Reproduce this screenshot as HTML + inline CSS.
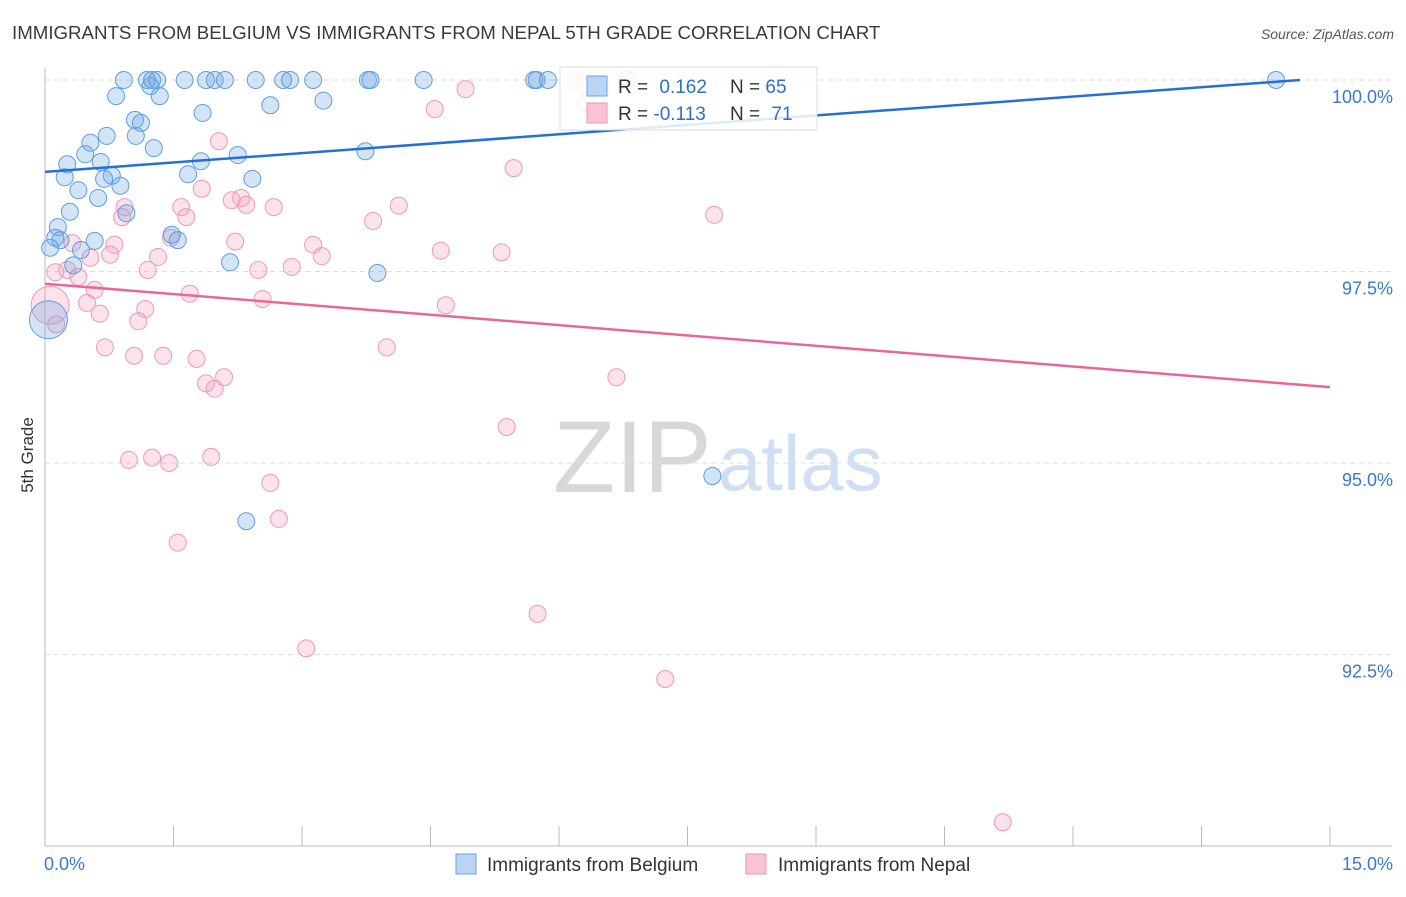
<!DOCTYPE html>
<html><head><meta charset="utf-8"><style>
body{margin:0;background:#fff;font-family:"Liberation Sans",sans-serif}
svg text{font-family:"Liberation Sans",sans-serif}
</style></head><body>
<svg id="chart" width="1406" height="892">
<text x="12" y="39" font-size="18.7" fill="#3a3a3a">IMMIGRANTS FROM BELGIUM VS IMMIGRANTS FROM NEPAL 5TH GRADE CORRELATION CHART</text>
<text x="1394" y="39" font-size="14" fill="#555" font-style="italic" text-anchor="end">Source: ZipAtlas.com</text>
<text transform="translate(33,455) rotate(-90)" font-size="17" fill="#333" text-anchor="middle">5th Grade</text>
<g><text x="553" y="492" font-size="102" fill="#d8d8d8" font-family="Liberation Serif">ZIP</text><text x="718" y="490" font-size="78" fill="#cfe0f3">atlas</text></g>
<g id="grid"></g><g id="axes"></g><g id="marks"></g>
<g>
<rect x="560" y="67" width="257" height="63" fill="#fff" fill-opacity="0.85" stroke="#ddd"/>
<rect x="587" y="76" width="20" height="20" fill="#b9d4f5" stroke="#6aa3e6"/>
<rect x="587" y="103" width="20" height="20" fill="#f8c3d4" stroke="#ec95b2"/>
<text x="618" y="93" font-size="19" fill="#333">R = <tspan fill="#2c6fd1" dx="6">0.162</tspan></text>
<text x="730" y="93" font-size="19" fill="#333">N = <tspan fill="#2c6fd1">65</tspan></text>
<text x="618" y="120" font-size="19" fill="#333">R = <tspan fill="#2c6fd1">-0.113</tspan></text>
<text x="730" y="120" font-size="19" fill="#333">N = <tspan fill="#2c6fd1" dx="6">71</tspan></text>
</g>
<g>
<rect x="456" y="854" width="20" height="20" fill="#b9d4f5" stroke="#6aa3e6"/>
<text x="487" y="871" font-size="19" fill="#333">Immigrants from Belgium</text>
<rect x="746" y="854" width="20" height="20" fill="#f8c3d4" stroke="#ec95b2"/>
<text x="778" y="871" font-size="19" fill="#333">Immigrants from Nepal</text>
</g>
</svg>
<script>
const yTicks=[100,97.5,95,92.5];
const yTickLabels=["100.0%","97.5%","95.0%","92.5%"];
const xTickLabels=["0.0%","15.0%"];
const belgiumX=[0.92,1.19,1.25,1.31,1.63,1.88,1.98,2.10,2.46,2.78,2.86,3.13,3.77,3.80,4.42,5.71,5.74,5.87,14.37,1.23,0.83,1.34,2.63,3.25,1.84,1.05,1.12,0.72,1.06,0.53,1.27,0.47,3.74,2.25,0.65,1.82,0.26,0.23,1.67,0.78,0.69,0.88,2.42,0.39,0.62,0.29,0.95,0.15,0.12,0.18,1.48,1.55,0.58,0.06,0.42,2.16,3.88,0.33,0.04,7.79,2.35];
const belgiumY=[100,100,100,100,100,100,100,100,100,100,100,100,100,100,100,100,100,100,100,99.92,99.79,99.79,99.67,99.73,99.57,99.48,99.44,99.27,99.27,99.18,99.11,99.03,99.07,99.02,98.93,98.94,98.90,98.73,98.77,98.75,98.71,98.62,98.71,98.56,98.46,98.28,98.26,98.08,97.94,97.91,97.98,97.91,97.90,97.81,97.78,97.62,97.48,97.58,96.87,94.83,94.24];
const nepalX=[6.79,6.19,6.31,4.91,4.55,2.03,5.47,1.83,0.93,0.90,1.59,1.65,2.18,2.29,2.35,2.67,4.13,3.83,7.81,1.47,2.22,3.13,3.23,4.62,5.33,0.81,0.32,0.53,0.76,1.32,1.20,2.49,2.88,0.26,0.39,0.12,1.69,0.58,0.49,2.54,4.68,1.17,0.64,1.09,0.13,0.06,0.70,1.04,1.38,1.77,3.99,1.88,1.98,2.09,6.67,5.39,0.98,1.25,1.45,1.94,2.63,1.55,2.73,5.75,3.05,7.24,11.18];
const nepalY=[100,100,99.70,99.88,99.62,99.20,98.85,98.58,98.34,98.21,98.34,98.21,98.43,98.46,98.37,98.34,98.36,98.16,98.24,97.94,97.89,97.85,97.70,97.77,97.75,97.85,97.87,97.68,97.72,97.69,97.52,97.52,97.56,97.52,97.43,97.49,97.21,97.26,97.09,97.14,97.06,97.01,96.95,96.85,96.81,97.06,96.51,96.40,96.40,96.36,96.51,96.04,95.97,96.12,96.12,95.47,95.04,95.07,95.00,95.08,94.74,93.96,94.27,93.03,92.58,92.18,90.31];
const belgiumTrendX=[0,14.65], belgiumTrendY=[98.80,100];
const nepalTrendX=[0,15], nepalTrendY=[97.34,95.99];
const bigBelgium=[58], bigNepal=[45];

const xS=v=>45+v/15*1285;
const yS=v=>846-(v-90)/10*766;
const NS="http://www.w3.org/2000/svg";
function mk(t,a,p){const e=document.createElementNS(NS,t);for(const k in a)e.setAttribute(k,a[k]);p.appendChild(e);return e;}
const grid=document.getElementById('grid'),axes=document.getElementById('axes'),marks=document.getElementById('marks');
yTicks.forEach((t,i)=>{
 const l=mk('line',{x1:45,x2:1392,y1:yS(t),y2:yS(t),stroke:'#ddd','stroke-dasharray':'5,4'},grid);
 
 
 const tx=mk('text',{x:1393,y:yS(t)+23,'font-size':18,fill:'#3a78d4','text-anchor':'end'},axes);
 tx.textContent=yTickLabels[i];
 
 
});
const ax=mk('line',{x1:45,x2:45,y1:68,y2:846,stroke:'#bbb'},axes);


const bx=mk('line',{x1:45,x2:1392,y1:846,y2:846,stroke:'#bbb'},axes);


for(let i=0;i<=10;i++){
 const t=mk('line',{x1:xS(i*1.5),x2:xS(i*1.5),y1:826,y2:846,stroke:'#bbb'},axes);
 
 
}
[[0,44,'start'],[15,1393,'end']].forEach((d,i)=>{
 const tx=mk('text',{x:d[1],y:870,'font-size':18,fill:'#3a78d4','text-anchor':d[2]},axes);
 tx.textContent=xTickLabels[i];
 
 
});
function pts(X,Y,big,fill,stroke,name){
 X.forEach((x,i)=>{
  const r=big.includes(i)?19:8.5;
  const c=mk('circle',{cx:xS(x),cy:yS(Y[i]),r:r,fill:fill,stroke:stroke,'stroke-width':1},marks);
  
  
 });
}
pts(nepalX,nepalY,bigNepal,'rgba(244,160,190,0.3)','#ec9ab5','nepal-point');
pts(belgiumX,belgiumY,bigBelgium,'rgba(110,165,230,0.3)','#5f9de2','belgium-point');
const t1=mk('line',{x1:xS(belgiumTrendX[0]),y1:yS(belgiumTrendY[0]),x2:xS(belgiumTrendX[1]),y2:yS(belgiumTrendY[1]),stroke:'#2470d6','stroke-width':2.5},marks);


const t2=mk('line',{x1:xS(nepalTrendX[0]),y1:yS(nepalTrendY[0]),x2:xS(nepalTrendX[1]),y2:yS(nepalTrendY[1]),stroke:'#e8679a','stroke-width':2.5},marks);


</script>
</body></html>
